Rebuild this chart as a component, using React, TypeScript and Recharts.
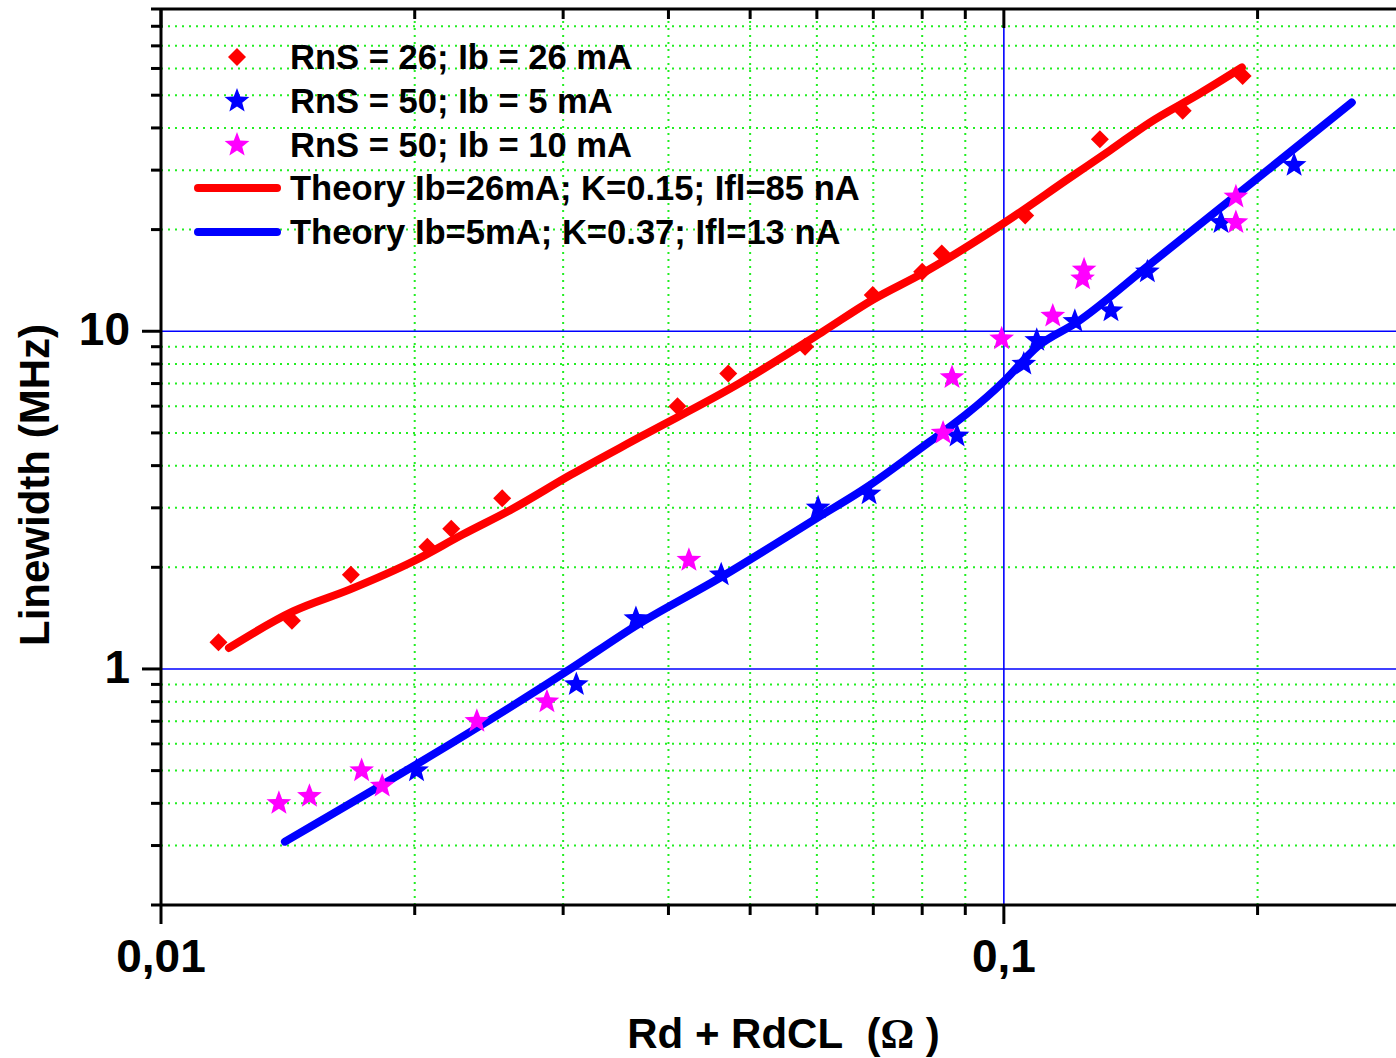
import React from "react";
import { ComposedChart, Scatter, XAxis, YAxis, ReferenceLine, Label } from "recharts";

// measured linewidth points (Rd + RdCL in ohm, linewidth in MHz)
const rns26Ib26 = [
  { x: 0.0117, y: 1.2 }, { x: 0.0143, y: 1.39 }, { x: 0.0168, y: 1.9 }, { x: 0.0207, y: 2.3 },
  { x: 0.0221, y: 2.6 }, { x: 0.0254, y: 3.2 }, { x: 0.041, y: 6.0 }, { x: 0.0471, y: 7.5 },
  { x: 0.0581, y: 9.0 }, { x: 0.0699, y: 12.8 }, { x: 0.08, y: 15.0 }, { x: 0.0844, y: 17.0 },
  { x: 0.106, y: 22 }, { x: 0.13, y: 37 }, { x: 0.163, y: 45 }, { x: 0.192, y: 57 },
];

const rns50Ib5 = [
  { x: 0.0201, y: 0.5 }, { x: 0.0311, y: 0.9 }, { x: 0.0366, y: 1.41 }, { x: 0.0462, y: 1.9 },
  { x: 0.0602, y: 3.0 }, { x: 0.0692, y: 3.3 }, { x: 0.088, y: 4.9 }, { x: 0.1056, y: 8.0 },
  { x: 0.1094, y: 9.4 }, { x: 0.1214, y: 10.7 }, { x: 0.134, y: 11.5 }, { x: 0.148, y: 15 },
  { x: 0.181, y: 21 }, { x: 0.221, y: 31 },
];

const rns50Ib10 = [
  { x: 0.0138, y: 0.4 }, { x: 0.015, y: 0.42 }, { x: 0.0173, y: 0.5 }, { x: 0.0183, y: 0.45 },
  { x: 0.0237, y: 0.7 }, { x: 0.0287, y: 0.8 }, { x: 0.0423, y: 2.1 }, { x: 0.0847, y: 5.0 },
  { x: 0.0868, y: 7.3 }, { x: 0.0994, y: 9.5 }, { x: 0.1143, y: 11.1 }, { x: 0.124, y: 14.3 },
  { x: 0.1245, y: 15.2 }, { x: 0.1885, y: 25 }, { x: 0.1885, y: 21 },
];

// theory curves
const theoryIb26 = [
  { x: 0.01204, y: 1.154 }, { x: 0.01434, y: 1.48 }, { x: 0.01676, y: 1.72 }, { x: 0.0199, y: 2.08 },
  { x: 0.0228, y: 2.5 }, { x: 0.0262, y: 2.99 }, { x: 0.0306, y: 3.75 }, { x: 0.037, y: 4.86 },
  { x: 0.0486, y: 7.02 }, { x: 0.0608, y: 9.93 }, { x: 0.0699, y: 12.4 }, { x: 0.0801, y: 14.85 },
  { x: 0.1003, y: 21.0 }, { x: 0.1198, y: 28.5 }, { x: 0.1336, y: 34.3 }, { x: 0.149, y: 41.5 },
  { x: 0.1708, y: 50.6 }, { x: 0.1916, y: 60.4 },
];

const theoryIb5 = [
  { x: 0.01403, y: 0.308 }, { x: 0.0306, y: 1.0 }, { x: 0.0367, y: 1.349 }, { x: 0.046, y: 1.859 },
  { x: 0.06, y: 2.797 }, { x: 0.0688, y: 3.455 }, { x: 0.0774, y: 4.267 }, { x: 0.1003, y: 7.16 },
  { x: 0.1094, y: 8.97 }, { x: 0.1221, y: 10.63 }, { x: 0.149, y: 15.78 }, { x: 0.1958, y: 27.2 },
  { x: 0.2587, y: 47.6 },
];

// axis ticks
const xMajor = [0.01, 0.1];
const xMinor = [0.02, 0.03, 0.04, 0.05, 0.06, 0.07, 0.08, 0.09, 0.2];
const xLabels: Record<string, string> = { "0.01": "0,01", "0.1": "0,1" };
const yMajor = [1, 10];
const yMinor = [
  0.2, 0.3, 0.4, 0.5, 0.6, 0.7, 0.8, 0.9,
  2, 3, 4, 5, 6, 7, 8, 9,
  20, 30, 40, 50, 60, 70, 80, 90,
];

const legendItems = [
  { kind: "diamond", color: "#ff0000", text: "RnS = 26; Ib = 26 mA" },
  { kind: "star", color: "#0000ff", text: "RnS = 50; Ib = 5 mA" },
  { kind: "star", color: "#ff00ff", text: "RnS = 50; Ib = 10 mA" },
  { kind: "line", color: "#ff0000", text: "Theory Ib=26mA; K=0.15; Ifl=85 nA" },
  { kind: "line", color: "#0000ff", text: "Theory Ib=5mA; K=0.37; Ifl=13 nA" },
];

const FONT = '"Liberation Sans", Arial, sans-serif';
const xTicks = [...xMajor, ...xMinor].sort((a, b) => a - b);
const yTicks = [...yMajor, ...yMinor].sort((a, b) => a - b);

function starPoints(cx: number, cy: number, R: number, r: number) {
  const pts: string[] = [];
  for (let i = 0; i < 10; i++) {
    const rad = i % 2 === 0 ? R : r;
    const a = -Math.PI / 2 + (i * Math.PI) / 5;
    pts.push(`${cx + rad * Math.cos(a)},${cy + rad * Math.sin(a)}`);
  }
  return pts.join(" ");
}

const Diamond = (props: any) => {
  const { cx, cy } = props;
  const s = 9;
  return <polygon points={`${cx},${cy - s} ${cx + s},${cy} ${cx},${cy + s} ${cx - s},${cy}`} fill="#ff0000" />;
};

const makeStar = (color: string) => (props: any) => (
  <polygon points={starPoints(props.cx, props.cy, 13, 5.5)} fill={color} />
);

const Empty = () => <g />;

const BottomTick = (props: any) => {
  const { x, y, payload } = props;
  const major = xMajor.includes(payload.value);
  return (
    <g>
      <line x1={x} x2={x} y1={y} y2={y + (major ? 19 : 10)} stroke="#000" strokeWidth={3} />
      {major && (
        <text x={x} y={y + 67} textAnchor="middle" fontSize={46} fontWeight="bold" fontFamily={FONT} fill="#000">
          {xLabels[String(payload.value)]}
        </text>
      )}
    </g>
  );
};

const TopTick = (props: any) => {
  const { x, y, payload } = props;
  const major = xMajor.includes(payload.value);
  return <line x1={x} x2={x} y1={y} y2={y + (major ? 19 : 10)} stroke="#000" strokeWidth={3} />;
};

const LeftTick = (props: any) => {
  const { x, y, payload } = props;
  const major = yMajor.includes(payload.value);
  return (
    <g>
      <line x1={x - (major ? 19 : 10)} x2={x} y1={y} y2={y} stroke="#000" strokeWidth={3} />
      {major && (
        <text x={x - 31} y={y + 14} textAnchor="end" fontSize={46} fontWeight="bold" fontFamily={FONT} fill="#000">
          {payload.value}
        </text>
      )}
    </g>
  );
};

const YTitle = (props: any) => {
  const { viewBox } = props;
  const cy = viewBox.y + viewBox.height / 2 + 28;
  return (
    <text
      transform={`translate(49, ${cy}) rotate(-90)`}
      textAnchor="middle"
      fontSize={42}
      fontWeight="bold"
      fontFamily={FONT}
      fill="#000"
    >
      Linewidth (MHz)
    </text>
  );
};

const XTitle = (props: any) => {
  const { viewBox } = props;
  const cx = viewBox.x + viewBox.width / 2;
  return (
    <text x={cx} y={1048} textAnchor="middle" fontSize={42} fontWeight="bold" fontFamily={FONT} fill="#000">
      Rd + RdCL{"\u00a0\u00a0"}(
      <tspan fontFamily='"Liberation Serif", "Times New Roman", serif'>Ω</tspan> )
    </text>
  );
};

function LegendIcon({ kind, color }: { kind: string; color: string }) {
  return (
    <svg width={100} height={44} style={{ position: "absolute", left: 188, top: 0 }}>
      {kind === "diamond" && <polygon points="49,13 58,22 49,31 40,22" fill={color} />}
      {kind === "star" && <polygon points={starPoints(49, 22, 13, 5.5)} fill={color} />}
      {kind === "line" && (
        <line x1={10} x2={89} y1={22} y2={22} stroke={color} strokeWidth={8} strokeLinecap="round" />
      )}
    </svg>
  );
}

export default function App() {
  const grid = "#22ee22";
  return (
    <div style={{ position: "fixed", left: 0, top: 0, width: 1396, height: 1058, overflow: "hidden", background: "#fff" }}>
      <ComposedChart width={1406} height={1058} margin={{ top: 0, right: 0, bottom: 0, left: 0 }}>
        <XAxis
          xAxisId="bottom"
          type="number"
          dataKey="x"
          scale="log"
          domain={[0.01, 0.3]}
          allowDataOverflow
          ticks={xTicks}
          interval={0}
          height={153}
          tickSize={0}
          tickMargin={0}
          tick={<BottomTick />}
          axisLine={{ stroke: "#000", strokeWidth: 3 }}
        >
          <Label content={<XTitle />} />
        </XAxis>
        <XAxis
          xAxisId="top"
          orientation="top"
          type="number"
          dataKey="x"
          scale="log"
          domain={[0.01, 0.3]}
          allowDataOverflow
          ticks={xTicks}
          interval={0}
          height={9}
          tickSize={0}
          tickMargin={0}
          tick={<TopTick />}
          axisLine={{ stroke: "#000", strokeWidth: 3 }}
        />
        <YAxis
          yAxisId="left"
          type="number"
          dataKey="y"
          scale="log"
          domain={[0.2, 90]}
          allowDataOverflow
          ticks={yTicks}
          interval={0}
          width={161}
          tickSize={0}
          tickMargin={0}
          tick={<LeftTick />}
          axisLine={{ stroke: "#000", strokeWidth: 3 }}
        >
          <Label content={<YTitle />} />
        </YAxis>

        {xMinor.map((v) => (
          <ReferenceLine key={`xv${v}`} x={v} xAxisId="bottom" yAxisId="left" stroke={grid} strokeWidth={2} strokeDasharray="2 5" />
        ))}
        {yMinor.map((v) => (
          <ReferenceLine key={`yv${v}`} y={v} xAxisId="bottom" yAxisId="left" stroke={grid} strokeWidth={2} strokeDasharray="2 5" />
        ))}
        <ReferenceLine x={0.1} xAxisId="bottom" yAxisId="left" stroke="#0000ff" strokeWidth={1.6} />
        {yMajor.map((v) => (
          <ReferenceLine key={`ym${v}`} y={v} xAxisId="bottom" yAxisId="left" stroke="#0000ff" strokeWidth={1.6} />
        ))}

        <Scatter
          data={theoryIb26}
          xAxisId="bottom"
          yAxisId="left"
          fill="#ff0000"
          line={{ stroke: "#ff0000", strokeWidth: 8, strokeLinecap: "round", strokeLinejoin: "round" }}
          lineType="joint"
          lineJointType="monotoneX"
          shape={<Empty />}
          isAnimationActive={false}
        />
        <Scatter
          data={theoryIb5}
          xAxisId="bottom"
          yAxisId="left"
          fill="#0000ff"
          line={{ stroke: "#0000ff", strokeWidth: 8, strokeLinecap: "round", strokeLinejoin: "round" }}
          lineType="joint"
          lineJointType="monotoneX"
          shape={<Empty />}
          isAnimationActive={false}
        />
        <Scatter data={rns26Ib26} xAxisId="bottom" yAxisId="left" fill="#ff0000" shape={<Diamond />} isAnimationActive={false} />
        <Scatter data={rns50Ib5} xAxisId="bottom" yAxisId="left" fill="#0000ff" shape={makeStar("#0000ff")} isAnimationActive={false} />
        <Scatter data={rns50Ib10} xAxisId="bottom" yAxisId="left" fill="#ff00ff" shape={makeStar("#ff00ff")} isAnimationActive={false} />
      </ComposedChart>

      <div style={{ position: "absolute", left: 0, top: 35, fontFamily: FONT, fontWeight: "bold", fontSize: 34.6, color: "#000" }}>
        {legendItems.map((it, i) => (
          <div key={i} style={{ position: "absolute", left: 0, top: i * 43.75, height: 44, width: 900 }}>
            <LegendIcon kind={it.kind} color={it.color} />
            <div style={{ position: "absolute", left: 290, top: 0, lineHeight: "44px", whiteSpace: "nowrap" }}>{it.text}</div>
          </div>
        ))}
      </div>
    </div>
  );
}
